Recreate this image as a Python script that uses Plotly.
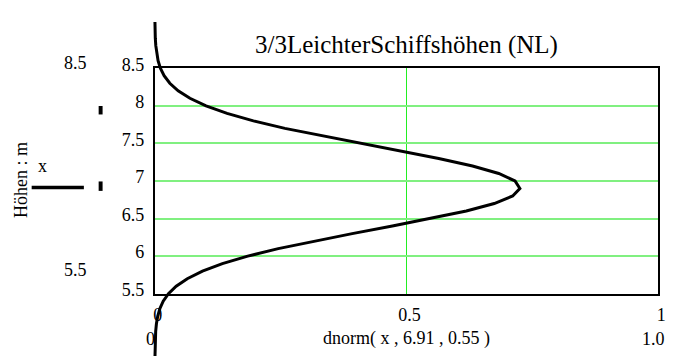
import plotly.graph_objects as go

W, H = 675, 362          # target picture size
OX, OY = 8, 8            # default page body margin
FW, FH = W - OX, H - OY  # figure size so the page fits the window exactly

# Data: x (vertical) and density (horizontal)
x_vals = [4.6, 4.7, 4.8, 4.9, 5.0, 5.1, 5.2, 5.3, 5.4, 5.5, 5.6, 5.7, 5.8, 5.9,
          6.0, 6.1, 6.2, 6.3, 6.4, 6.5, 6.6, 6.7, 6.8, 6.9, 7.0, 7.1, 7.2, 7.3,
          7.4, 7.5, 7.6, 7.7, 7.8, 7.9, 8.0, 8.1, 8.2, 8.3, 8.4, 8.5, 8.6, 8.7,
          8.8, 8.9, 9.0, 9.1, 9.15]
dens_vals = [0.00011, 0.00023, 0.00046, 0.00091, 0.00175, 0.00323, 0.00577, 0.0100,
             0.0167, 0.0271, 0.0425, 0.0645, 0.0947, 0.1343, 0.1846, 0.2453, 0.3153,
             0.3922, 0.4720, 0.5494, 0.6189, 0.6744, 0.7110, 0.7253, 0.7157, 0.6834,
             0.6313, 0.5641, 0.4878, 0.4080, 0.3302, 0.2585, 0.1959, 0.1436, 0.1018,
             0.0698, 0.0464, 0.0298, 0.0185, 0.0111, 0.0065, 0.0036, 0.0020, 0.0010,
             0.0005, 0.00026, 0.00018]

y_ticks = [5.5, 6, 6.5, 7, 7.5, 8, 8.5]
y_ticktext = ["5.5", "6", "6.5", "7", "7.5", "8", "8.5"]
x_ticks = [0, 0.5, 1]
x_ticktext = ["0", "0.5", "1"]

title_text = "3/3LeichterSchiffshöhen (NL)"
x_label = "dnorm( x , 6.91 , 0.55 )"
y_label = "Höhen : m"

FONT = "Liberation Serif, Times New Roman, serif"


def px(xp):
    return (xp - OX) / FW


def py(yp):
    return 1 - (yp - OY) / FH


# plot area in window pixels
L, R, T, B = 155, 666, 57, 296
xd = [px(L), px(R)]
yd = [py(B), py(T)]
xr = [0, 1]
yr = [5.5, 8.5]


def ext(rng, dom):
    span = (rng[1] - rng[0]) / (dom[1] - dom[0])
    lo = rng[0] - dom[0] * span
    return [lo, lo + span]


fig = go.Figure()
fig.add_trace(go.Scatter(x=[None], y=[None], xaxis="x", yaxis="y", showlegend=False))
fig.add_trace(go.Scatter(x=dens_vals, y=x_vals, mode="lines", xaxis="x2", yaxis="y2",
                         line=dict(color="black", width=3), showlegend=False,
                         hoverinfo="skip"))

fig.update_layout(
    width=FW, height=FH,
    margin=dict(l=0, r=0, t=0, b=0),
    paper_bgcolor="white", plot_bgcolor="rgba(0,0,0,0)",
    showlegend=False,
    font=dict(family=FONT, size=18, color="black"),
    xaxis=dict(domain=xd, range=xr, tickvals=x_ticks, ticktext=x_ticktext,
               showgrid=True, gridcolor="#22ee22", gridwidth=1,
               showline=True, mirror=True, linecolor="black", linewidth=2,
               ticks="", zeroline=False, ticklabelstandoff=4, ticklabelshift=3,
               tickfont=dict(family=FONT, size=18, color="black"), fixedrange=True,
               anchor="y"),
    yaxis=dict(domain=yd, range=yr, tickvals=y_ticks, ticktext=y_ticktext,
               showgrid=True, gridcolor="#80f080", gridwidth=1.5,
               showline=True, mirror=True, linecolor="black", linewidth=2,
               ticks="", zeroline=False, ticklabelstandoff=5, ticklabelshift=-4,
               tickfont=dict(family=FONT, size=18, color="black"), fixedrange=True,
               anchor="x"),
    xaxis2=dict(domain=[0, 1], range=ext(xr, xd), visible=False,
                anchor="y2", fixedrange=True),
    yaxis2=dict(domain=[0, 1], range=ext(yr, yd), visible=False,
                anchor="x2", fixedrange=True),
)

ann = [
    dict(text=title_text, x=px(410.5), y=py(32), size=25, angle=0),
    dict(text=x_label, x=px(411), y=py(343), size=18, angle=0),
    dict(text="0", x=px(151), y=py(344), size=18, angle=0),
    dict(text="1.0", x=px(661), y=py(344), size=18, angle=0),
    dict(text="8.5", x=px(74.5), y=py(51), size=18, angle=0),
    dict(text="5.5", x=px(74.5), y=py(271), size=18, angle=0),
    dict(text="x", x=px(41), y=py(161), size=18, angle=0),
    dict(text=y_label, x=px(18.5), y=py(175), size=18, angle=-90),
]
for a in ann:
    fig.add_annotation(text=a["text"], x=a["x"], y=a["y"], xref="paper", yref="paper",
                       xanchor="center", yanchor="middle", showarrow=False,
                       textangle=a["angle"],
                       font=dict(family=FONT, size=a["size"], color="black"))

# legend-like decoration on the left
fig.add_shape(type="line", xref="paper", yref="paper", x0=px(30), x1=px(83),
              y0=py(183.5), y1=py(183.5), line=dict(color="black", width=3.5))
for (y0, y1) in [(97, 106), (177, 187)]:
    fig.add_shape(type="rect", xref="paper", yref="paper", x0=px(98), x1=px(102),
                  y0=py(y1), y1=py(y0), fillcolor="black", line=dict(width=0))

fig.write_html("out.html")
